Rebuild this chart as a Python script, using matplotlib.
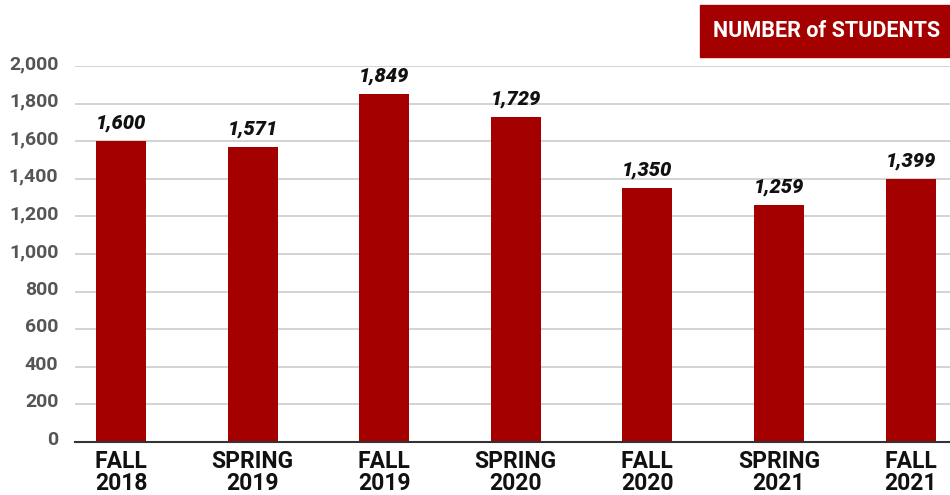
import matplotlib.pyplot as plt
import matplotlib.transforms as mtransforms
from matplotlib.ticker import FuncFormatter

terms = ['FALL\n2018', 'SPRING\n2019', 'FALL\n2019', 'SPRING\n2020',
         'FALL\n2020', 'SPRING\n2021', 'FALL\n2021']
students = [1600, 1571, 1849, 1729, 1350, 1259, 1399]
y_ticks = list(range(0, 2001, 200))

RED = '#a50000'

plt.rcParams['font.family'] = ['Roboto', 'DejaVu Sans']

fig = plt.figure(figsize=(9.5, 4.95), dpi=100)
ax = fig.add_axes([75 / 950, 1 - 442 / 495, 875 / 950, 376 / 495])

x = list(range(len(terms)))
ax.bar(x, students, width=0.38, color=RED, zorder=3)

for xi, v in zip(x, students):
    ax.text(xi, v + 45, f'{v:,}', ha='center', va='bottom', fontsize=14.5,
            fontweight='heavy', fontstyle='italic', color='#111111')

ax.set_xlim(-0.35, 6.30)
ax.set_ylim(0, 2000)
ax.set_yticks(y_ticks)
ax.yaxis.set_major_formatter(FuncFormatter(lambda v, p: f'{int(v):,}'))
ax.set_xticks(x)
ax.set_xticklabels(terms, fontsize=16.5, fontweight='bold', color='#111111',
                   linespacing=0.9)

ax.tick_params(axis='y', length=0, pad=12, labelsize=14, labelcolor='#555555')
ax.tick_params(axis='x', length=0, pad=6)
shift = mtransforms.ScaledTranslation(0, 4 / 100, fig.dpi_scale_trans)
for lab in ax.get_yticklabels():
    lab.set_fontweight('bold')
    lab.set_transform(lab.get_transform() + shift)

ax.grid(axis='y', color='#cccccc', linewidth=1.2, zorder=0)
for s in ['top', 'right', 'left']:
    ax.spines[s].set_visible(False)
ax.spines['bottom'].set_color('#333333')
ax.spines['bottom'].set_linewidth(1.5)
ax.spines['bottom'].set_zorder(4)

# legend-like title box
fig.patches.append(plt.Rectangle((700 / 950, 1 - 57 / 495), 250 / 950, 52 / 495,
                                 transform=fig.transFigure, color=RED, zorder=5))
fig.text(827 / 950, 1 - 31 / 495, 'NUMBER of STUDENTS', ha='center', va='center',
         fontsize=15.5, fontweight='bold', color='white', zorder=6)

fig.savefig('out.png', dpi=100)
